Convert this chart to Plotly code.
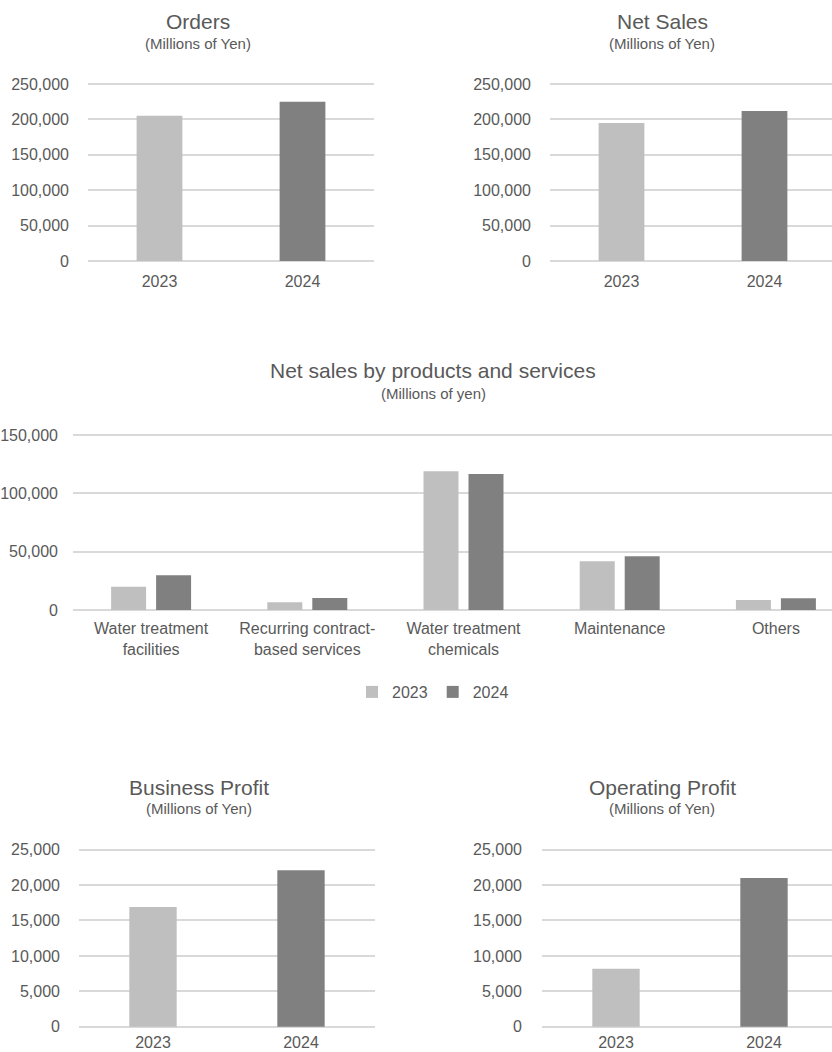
import plotly.graph_objects as go

# ---------------- data ----------------
years = ["2023", "2024"]
orders = [205000, 225000]
net_sales = [195000, 212000]
business_profit = [16900, 22100]
operating_profit = [8200, 21000]

segments = ["Water treatment<br>facilities", "Recurring contract-<br>based services",
            "Water treatment<br>chemicals", "Maintenance", "Others"]
seg_2023 = [20000, 6600, 118900, 41700, 8600]
seg_2024 = [29700, 10300, 116600, 46000, 10000]

LIGHT = "#BFBFBF"
DARK = "#808080"
GRID = "#D9D9D9"
TXT = "#595959"
FONT = "Arial, Liberation Sans, sans-serif"

W, H = 832, 1052


def px_x(v):
    return v / W


def px_y(v):
    return 1 - v / H


fig = go.Figure()

bar_w = 0.32
fig.add_trace(go.Bar(x=years, y=orders, marker_color=[LIGHT, DARK], width=bar_w,
                     showlegend=False, xaxis="x", yaxis="y"))
fig.add_trace(go.Bar(x=years, y=net_sales, marker_color=[LIGHT, DARK], width=bar_w,
                     showlegend=False, xaxis="x2", yaxis="y2"))
fig.add_trace(go.Bar(x=segments, y=seg_2023, name="2023", marker_color=LIGHT,
                     width=0.224, offset=-0.256, xaxis="x3", yaxis="y3"))
fig.add_trace(go.Bar(x=segments, y=seg_2024, name="2024", marker_color=DARK,
                     width=0.224, offset=0.032, xaxis="x3", yaxis="y3"))
fig.add_trace(go.Bar(x=years, y=business_profit, marker_color=[LIGHT, DARK], width=bar_w,
                     showlegend=False, xaxis="x4", yaxis="y4"))
fig.add_trace(go.Bar(x=years, y=operating_profit, marker_color=[LIGHT, DARK], width=bar_w,
                     showlegend=False, xaxis="x5", yaxis="y5"))

tickfont = dict(family=FONT, size=16, color=TXT)


def xax(x0, x1, rng, anchor, standoff=4):
    return dict(domain=[px_x(x0), min(1.0, px_x(x1))], range=rng, type="category",
                showgrid=False, zeroline=False, showline=False, ticks="",
                tickfont=tickfont, anchor=anchor, fixedrange=True,
                ticklabelstandoff=standoff, automargin=False)


def yax(y_top, y_bot, vmax, dtick, anchor, standoff=18):
    # pad the range a little so gridlines at 0 and at the max are drawn
    pad = vmax * 0.012
    ppu = (y_bot - y_top) / vmax
    top = y_top - pad * ppu
    bot = y_bot + pad * ppu
    return dict(domain=[px_y(bot), px_y(top)], range=[-pad, vmax + pad], dtick=dtick,
                tick0=0, tickformat=",", showgrid=True, gridcolor=GRID, gridwidth=1.5,
                zeroline=False, showline=False, ticks="", tickfont=tickfont,
                anchor=anchor, fixedrange=True, ticklabelstandoff=standoff,
                automargin=False)


layout = dict(
    template="none",
    width=W, height=H, margin=dict(l=0, r=0, t=0, b=0, pad=0, autoexpand=False),
    paper_bgcolor="white", plot_bgcolor="white",
    font=dict(family=FONT, color=TXT),
    barmode="overlay",
    showlegend=True,
    legend=dict(orientation="h", x=px_x(433), y=px_y(692), xanchor="center", yanchor="middle",
                font=dict(family=FONT, size=16, color=TXT), itemwidth=30,
                bgcolor="rgba(0,0,0,0)"),
)

layout["xaxis"] = xax(88, 374, [-0.5, 1.5], "y", standoff=7)
layout["yaxis"] = yax(84, 261, 250000, 50000, "x")
layout["xaxis2"] = xax(550, 836, [-0.5, -0.5 + 282 / 143], "y2", standoff=7)
layout["yaxis2"] = yax(84, 261, 250000, 50000, "x2")
layout["xaxis3"] = xax(73, 854, [-0.5, -0.5 + 759 / 156.2], "y3", standoff=5)
layout["yaxis3"] = yax(435, 610, 150000, 50000, "x3", standoff=14)
layout["xaxis4"] = xax(79, 375, [-0.5, 1.5], "y4", standoff=2)
layout["yaxis4"] = yax(849.7, 1026.7, 25000, 5000, "x4")
layout["xaxis5"] = xax(542, 838, [-0.5, -0.5 + 290 / 148], "y5", standoff=2)
layout["yaxis5"] = yax(849.7, 1026.7, 25000, 5000, "x5", standoff=19)

titles = [
    ("Orders", 198, 21.5, 43.5),
    ("Net Sales", 662, 21.5, 43.5),
    ("Net sales by products and services", 433, 370.5, 393),
    ("Business Profit", 199, 787, 808),
    ("Operating Profit", 662, 787, 808),
]
annotations = []
for i, (t, cx, ty, sy) in enumerate(titles):
    sub = "(Millions of yen)" if i == 2 else "(Millions of Yen)"
    annotations.append(dict(text=t, x=px_x(cx), y=px_y(ty), xref="paper", yref="paper",
                            xanchor="center", yanchor="middle", showarrow=False,
                            font=dict(family=FONT, size=21, color=TXT)))
    annotations.append(dict(text=sub, x=px_x(cx), y=px_y(sy), xref="paper", yref="paper",
                            xanchor="center", yanchor="middle", showarrow=False,
                            font=dict(family=FONT, size=15, color=TXT)))
layout["annotations"] = annotations

fig.update_layout(**layout)
fig.write_html("out.html")
